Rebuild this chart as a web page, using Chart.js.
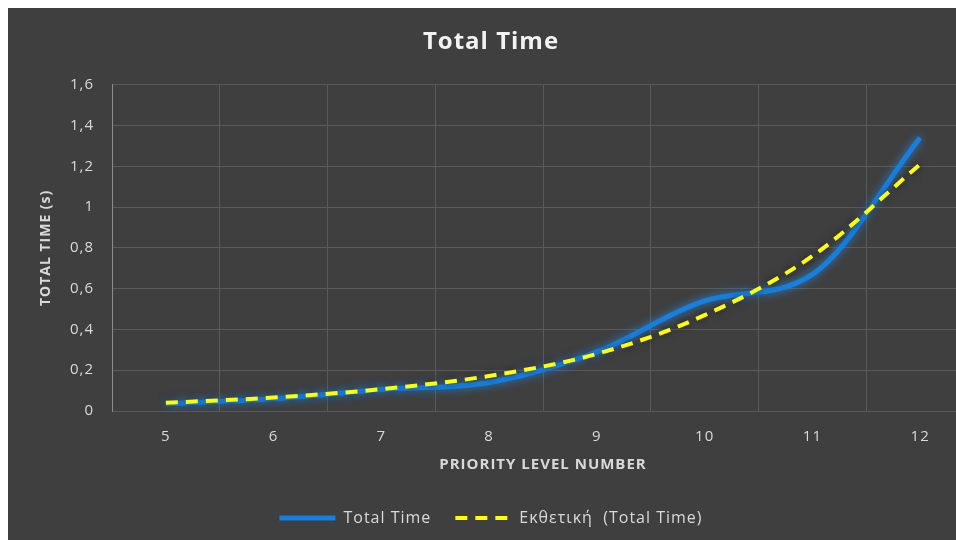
<!DOCTYPE html>
<html>
<head>
<meta charset="utf-8">
<script src="https://cdn.jsdelivr.net/npm/chart.js@4/dist/chart.umd.min.js"></script>
<style>
  html, body { margin: 0; padding: 0; background: #ffffff; overflow: hidden; width: 956px; height: 540px; }
  #wrap { position: absolute; left: 8px; top: 8px; width: 972px; height: 532px; background: #3f3f3f; }
</style>
</head>
<body>
<div id="wrap"><canvas id="c"></canvas></div>
<script>
// Priority levels on the x axis
const priorityLevels = ['5', '6', '7', '8', '9', '10', '11', '12'];
// Measured total time (seconds)
const totalTime = [0.035, 0.06, 0.105, 0.14, 0.29, 0.54, 0.67, 1.34];
// Exponential trend of the measured time
const expTrend = [0.04, 0.066, 0.107, 0.172, 0.28, 0.47, 0.76, 1.21];
// Y axis tick values
const yTicks = [0, 0.2, 0.4, 0.6, 0.8, 1, 1.2, 1.4, 1.6];

const FONT = "'Open Sans', 'Noto Sans', sans-serif";
const textColor = '#d9d9d9';
const gridColor = '#5a5a5a';

// slightly spaced lettering for all chart text
const spacingPlugin = {
  id: 'spacing',
  beforeUpdate(chart) { chart.ctx.letterSpacing = '1px'; },
  beforeDraw(chart) { chart.ctx.letterSpacing = '1px'; }
};

// soft glow under each line
const glowPlugin = {
  id: 'glow',
  beforeDatasetDraw(chart, args) {
    const ds = chart.data.datasets[args.index];
    const ctx = chart.ctx;
    ctx.save();
    if (ds.glow) {
      ctx.shadowColor = ds.glow;
      ctx.shadowBlur = 9;
    }
  },
  afterDatasetDraw(chart) {
    chart.ctx.restore();
  }
};

new Chart(document.getElementById('c'), {
  type: 'line',
  data: {
    labels: priorityLevels,
    datasets: [
      {
        label: 'Total Time',
        data: totalTime,
        borderColor: '#1580e0',
        borderWidth: 5,
        pointRadius: 0,
        cubicInterpolationMode: 'monotone',
        fill: false,
        order: 2,
        glow: 'rgba(40,150,255,0.75)'
      },
      {
        label: 'Εκθετική  (Total Time)',
        data: expTrend,
        borderColor: '#ffff00',
        borderWidth: 4,
        borderDash: [12, 8],
        pointRadius: 0,
        cubicInterpolationMode: 'monotone',
        fill: false,
        order: 1,
        glow: 'rgba(0,0,40,0.6)'
      }
    ]
  },
  options: {
    responsive: true,
    maintainAspectRatio: false,
    animation: false,
    layout: { padding: { left: 0, right: 6, top: 0, bottom: 4 } },
    plugins: {
      title: {
        display: true,
        text: 'Total Time',
        color: '#f2f2f2',
        font: { family: FONT, size: 24, weight: 'bold' },
        padding: { top: 20, bottom: 28 }
      },
      legend: {
        display: true,
        position: 'bottom',
        labels: {
          color: textColor,
          font: { family: FONT, size: 16 },
          usePointStyle: true,
          pointStyleWidth: 56,
          padding: 24,
          generateLabels(chart) {
            return chart.data.datasets.map((ds, i) => ({
              text: ds.label,
              fillStyle: ds.borderColor,
              strokeStyle: ds.borderColor,
              lineWidth: ds.borderWidth,
              lineDash: ds.borderDash || [],
              pointStyle: 'line',
              fontColor: textColor,
              datasetIndex: i,
              hidden: false
            }));
          }
        }
      },
      tooltip: { enabled: false }
    },
    scales: {
      x: {
        offset: true,
        grid: { color: gridColor, offset: true, drawTicks: false },
        border: { color: gridColor },
        ticks: { color: textColor, font: { family: FONT, size: 15 }, padding: 17 },
        title: {
          display: true,
          text: 'PRIORITY LEVEL NUMBER',
          color: textColor,
          font: { family: FONT, size: 15, weight: 'bold' },
          padding: { top: 0, bottom: 12 }
        },
        afterFit(scale) { scale.height = 75; }
      },
      y: {
        min: 0,
        max: 1.6,
        afterBuildTicks(scale) { scale.ticks = yTicks.map(v => ({ value: v })); },
        grid: { color: gridColor, drawTicks: false },
        border: { color: '#8c8c8c' },
        ticks: {
          color: textColor,
          font: { family: FONT, size: 15 },
          padding: 18,
          callback: v => String(Math.round(v * 10) / 10).replace('.', ',')
        },
        title: {
          display: true,
          text: 'TOTAL TIME (s)',
          color: textColor,
          font: { family: FONT, size: 14, weight: 'bold' },
          padding: { top: 30, bottom: 0 }
        },
        afterFit(scale) { scale.width = 104; }
      }
    }
  },
  plugins: [spacingPlugin, glowPlugin]
});
</script>
</body>
</html>
